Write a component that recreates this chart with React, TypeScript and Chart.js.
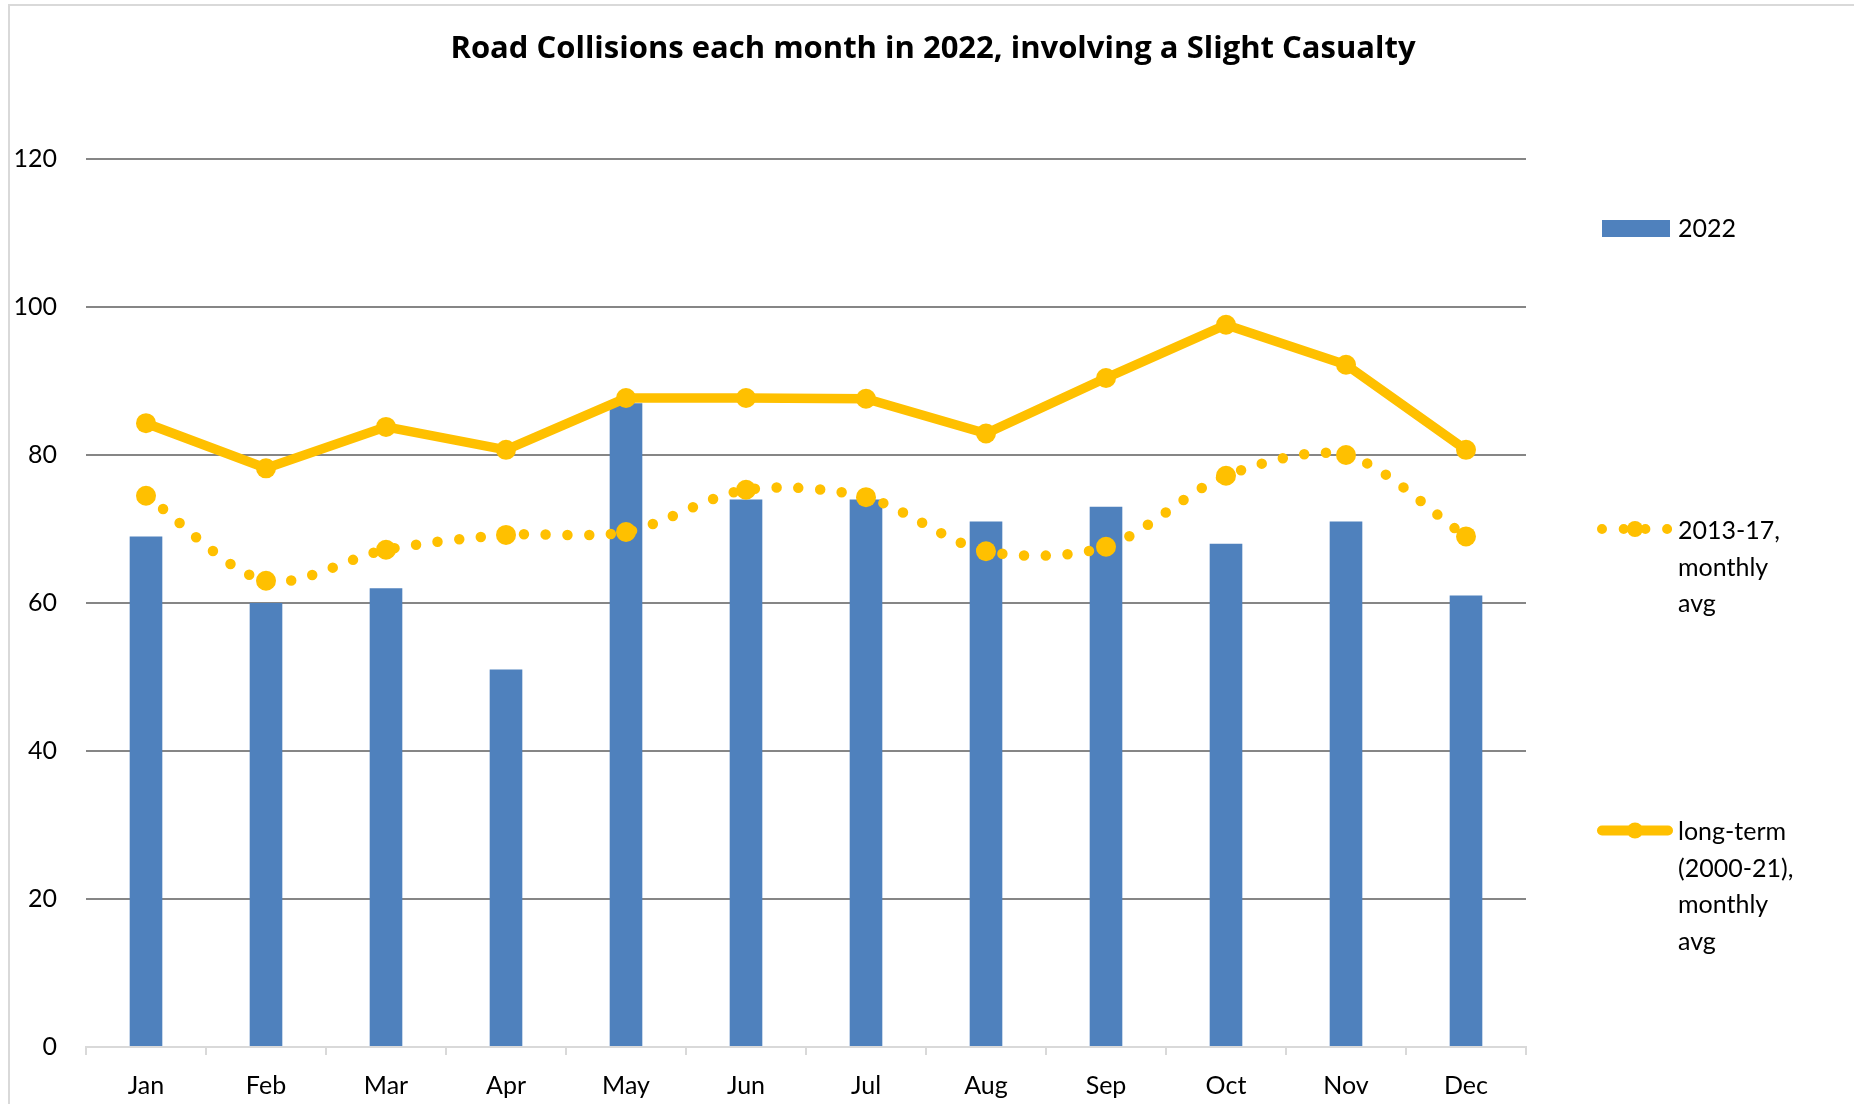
import React, { useEffect, useRef } from "react";
import { Chart, registerables } from "chart.js";

Chart.register(...registerables);

const months = ["Jan", "Feb", "Mar", "Apr", "May", "Jun", "Jul", "Aug", "Sep", "Oct", "Nov", "Dec"];
const values2022 = [69, 60, 62, 51, 87, 74, 74, 71, 73, 68, 71, 61];
const avg2013to17 = [74.5, 63.0, 67.2, 69.2, 69.6, 75.3, 74.3, 67.0, 67.6, 77.2, 80.0, 69.0];
const avgLongTerm = [84.3, 78.2, 83.8, 80.7, 87.7, 87.7, 87.6, 82.9, 90.4, 97.6, 92.2, 80.7];
const yTicks = [0, 20, 40, 60, 80, 100, 120];

const titleText = "Road Collisions each month in 2022, involving a Slight Casualty";
const legendBar = ["2022"];
const legendDotted = ["2013-17,", "monthly", "avg"];
const legendSolid = ["long-term", "(2000-21),", "monthly", "avg"];

const BLUE = "#4F81BD";
const GOLD = "#FFC000";
const FONT = "Lato, 'Open Sans', sans-serif";

const decorPlugin = {
  id: "decor",
  beforeDraw(chart: any) {
    const ctx = chart.ctx;
    ctx.save();
    ctx.strokeStyle = "#D9D9D9";
    ctx.lineWidth = 2;
    ctx.strokeRect(9, 5, 1900, 1200);
    ctx.restore();
  },
  afterDraw(chart: any) {
    const ctx = chart.ctx;
    ctx.save();
    // title
    ctx.fillStyle = "#000";
    ctx.font = `bold 31px 'Open Sans', Lato, sans-serif`;
    ctx.textAlign = "center";
    ctx.textBaseline = "alphabetic";
    ctx.fillText(titleText, 933, 58);

    ctx.font = `25px ${FONT}`;
    ctx.textAlign = "left";
    const tx = 1678;
    // bar legend
    ctx.fillStyle = BLUE;
    ctx.fillRect(1602, 220, 68, 17);
    ctx.fillStyle = "#000";
    ctx.fillText(legendBar[0], tx, 237);

    // dotted legend
    const dy = 529;
    ctx.strokeStyle = GOLD;
    ctx.lineWidth = 10;
    ctx.lineCap = "round";
    ctx.setLineDash([0, 21.7]);
    ctx.beginPath();
    ctx.moveTo(1602, dy);
    ctx.lineTo(1668, dy);
    ctx.stroke();
    ctx.setLineDash([]);
    ctx.fillStyle = GOLD;
    ctx.beginPath();
    ctx.arc(1635, dy, 8, 0, Math.PI * 2);
    ctx.fill();
    ctx.fillStyle = "#000";
    legendDotted.forEach((t, i) => ctx.fillText(t, tx, 539 + i * 36.5));

    // solid legend
    const sy = 830.5;
    ctx.strokeStyle = GOLD;
    ctx.lineWidth = 10;
    ctx.lineCap = "round";
    ctx.beginPath();
    ctx.moveTo(1602, sy);
    ctx.lineTo(1668, sy);
    ctx.stroke();
    ctx.fillStyle = GOLD;
    ctx.beginPath();
    ctx.arc(1635, sy, 8, 0, Math.PI * 2);
    ctx.fill();
    ctx.fillStyle = "#000";
    legendSolid.forEach((t, i) => ctx.fillText(t, tx, 840 + i * 36.5));
    ctx.restore();
  },
};

export default function App() {
  const ref = useRef<HTMLCanvasElement>(null);
  useEffect(() => {
    if (!ref.current) return;
    const chart = new Chart(ref.current, {
      type: "bar",
      data: {
        labels: months,
        datasets: [
          {
            type: "line",
            label: "long-term (2000-21), monthly avg",
            data: avgLongTerm,
            borderColor: GOLD,
            backgroundColor: GOLD,
            borderWidth: 9.5,
            pointRadius: 10,
            pointBorderWidth: 0,
            pointBackgroundColor: GOLD,
            tension: 0,
            order: 1,
          } as any,
          {
            type: "line",
            label: "2013-17, monthly avg",
            data: avg2013to17,
            borderColor: GOLD,
            backgroundColor: GOLD,
            borderWidth: 10.5,
            borderDash: [0, 21.7],
            borderCapStyle: "round",
            pointRadius: 10,
            pointBorderWidth: 0,
            pointBackgroundColor: GOLD,
            tension: 0.3,
            order: 2,
          } as any,
          {
            type: "bar",
            label: "2022",
            data: values2022,
            backgroundColor: BLUE,
            barPercentage: 0.272,
            categoryPercentage: 1,
            order: 3,
          },
        ],
      },
      options: {
        responsive: false,
        animation: false,
        layout: { padding: { top: 159, right: 328, left: 0, bottom: 0 } },
        plugins: {
          legend: { display: false },
          title: { display: false },
          tooltip: { enabled: false },
        },
        scales: {
          x: {
            offset: true,
            grid: {
              offset: true,
              drawOnChartArea: false,
              drawTicks: true,
              tickLength: 8,
              color: "#D9D9D9",
              lineWidth: 2,
            },
            border: { display: true, color: "#D9D9D9", width: 2 },
            ticks: {
              color: "#000",
              font: { family: FONT, size: 25 },
              padding: 16,
              maxRotation: 0,
            },
            afterFit: (s: any) => {
              s.height = 57;
            },
          },
          y: {
            min: 0,
            max: 120,
            afterBuildTicks: (s: any) => {
              s.ticks = yTicks.map((v) => ({ value: v }));
            },
            grid: {
              drawTicks: false,
              color: (c: any) => (c.tick && c.tick.value === 0 ? "rgba(0,0,0,0)" : "#868686"),
              lineWidth: 2,
            },
            border: { display: false },
            ticks: {
              color: "#000",
              font: { family: FONT, size: 25 },
              padding: 29,
            },
            afterFit: (s: any) => {
              s.width = 86;
            },
          },
        },
      },
      plugins: [decorPlugin],
    });
    return () => chart.destroy();
  }, []);
  return (
    <div style={{ position: "absolute", left: 0, top: 0, width: 1854, height: 1104, background: "#fff" }}>
      <canvas ref={ref} width={1854} height={1104} style={{ display: "block" }} />
    </div>
  );
}
